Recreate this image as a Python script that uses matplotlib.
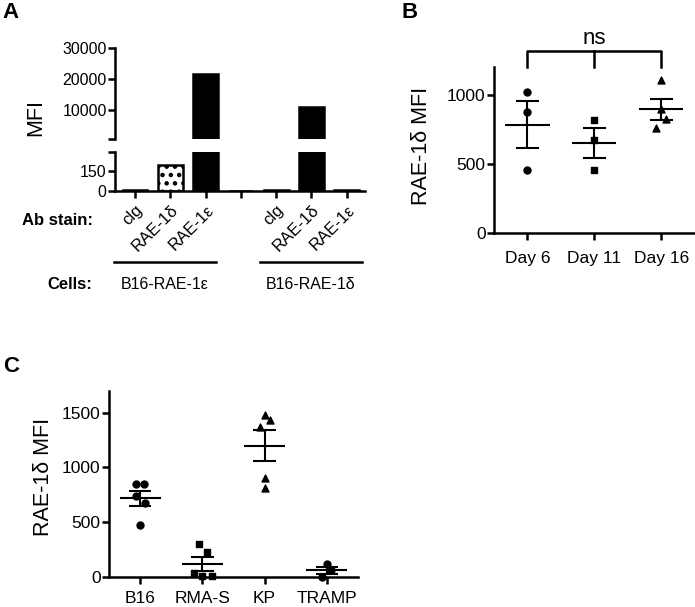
import numpy as np
import matplotlib
matplotlib.use('Agg')
import matplotlib.pyplot as plt
from matplotlib.lines import Line2D

plt.rcParams['font.family'] = ['Liberation Sans', 'DejaVu Sans']
plt.rcParams['hatch.linewidth'] = 2.0

# panel A: MFI per antibody stain, two cell lines (slot 3 is the gap)
a_stains = ['clg', 'RAE-1δ', 'RAE-1ε', '', 'clg', 'RAE-1δ', 'RAE-1ε']
a_mfi = [4, 190, 21500, 0, 4, 10900, 4]
a_cells = ['B16-RAE-1ε', 'B16-RAE-1δ']

# panel B: RAE-1δ MFI over time
b_days = ['Day 6', 'Day 11', 'Day 16']
b_day6 = [1020, 873, 455]
b_day11 = [820, 674, 453]
b_day16 = [1105, 897, 822, 757]
b_jitter = [[0, 0, 0], [0, 0, 0], [0, 0, 0.075, -0.08]]

# panel C: RAE-1δ MFI per tumour line
c_lines = ['B16', 'RMA-S', 'KP', 'TRAMP']
c_b16 = [850, 850, 735, 675, 470]
c_rmas = [300, 230, 35, 5, 5]
c_kp = [1475, 1435, 1365, 905, 810]
c_tramp = [112, 62, 0]
c_jitter = [[-0.07, 0.07, -0.07, 0.08, 0],
            [-0.06, 0.08, -0.14, 0, 0.16],
            [0, 0.08, -0.08, 0, 0],
            [0, 0.07, -0.08]]

LW = 1.8


def style(ax, hide_bottom=False):
    for s in ['top', 'right']:
        ax.spines[s].set_visible(False)
    for s in ax.spines.values():
        s.set_linewidth(LW)
    if hide_bottom:
        ax.spines['bottom'].set_visible(False)
    ax.tick_params(direction='out', length=5, width=LW, pad=1)


def mean_sem(ax, x, vals, half_mean=0.33, half_cap=0.17):
    m = np.mean(vals)
    s = np.std(vals, ddof=1) / np.sqrt(len(vals))
    ax.hlines(m, x - half_mean, x + half_mean, color='k', lw=1.5, zorder=2)
    ax.hlines([m - s, m + s], x - half_cap, x + half_cap, color='k', lw=1.5, zorder=2)
    ax.vlines(x, m - s, m + s, color='k', lw=1.5, zorder=2)


fig = plt.figure(figsize=(6.95, 6.07), dpi=100)

# ---- A ----
xa = np.arange(len(a_mfi))
colors = ['black'] * len(a_mfi)
colors[1] = 'white'
axA1 = fig.add_axes([0.1655, 0.771, 0.3597, 0.150])
axA2 = fig.add_axes([0.1655, 0.6853, 0.3597, 0.0643])
top_ylim = (500, 30000)
for ax in (axA1, axA2):
    bars = ax.bar(xa, a_mfi, width=0.7, color=colors, edgecolor='k', linewidth=LW)
    bars[1].set_hatch('..')
    if ax is axA1:
        for b, v in zip(bars, a_mfi):
            b.set_visible(v > top_ylim[0])
    ax.set_xlim(-0.57, 6.52)
axA1.set_ylim(*top_ylim)
axA1.set_yticks([500, 10000, 20000, 30000], ['', '10000', '20000', '30000'], fontsize=11.5)
axA1.set_xticks([])
style(axA1, hide_bottom=True)
axA2.set_ylim(0, 290)
axA2.set_yticks([0, 150, 290], ['0', '150', ''], fontsize=11.5)
axA2.set_xticks(xa)
axA2.set_xticklabels(a_stains, rotation=45, ha='right', rotation_mode='anchor', fontsize=12)
style(axA2)
axA2.tick_params(axis='x', pad=3)

fig.text(0.051, 0.807, 'MFI', rotation=90, ha='center', va='center', fontsize=15.5)
fig.text(0.134, 0.636, 'Ab stain:', ha='right', va='center', fontsize=12, fontweight='bold')
fig.text(0.1324, 0.532, 'Cells:', ha='right', va='center', fontsize=12, fontweight='bold')
for (x0, x1), name in zip([(114, 216), (260, 362)], a_cells):
    fig.add_artist(Line2D([x0 / 695, x1 / 695], [1 - 262 / 607] * 2, color='k', lw=LW))
    fig.text((x0 + x1) / 2 / 695, 0.532, name, ha='center', va='center', fontsize=11.5)

# ---- B ----
axB = fig.add_axes([0.7108, 0.6161, 0.2888, 0.2735])
for i, (vals, mk) in enumerate(zip([b_day6, b_day11, b_day16], ['o', 's', '^'])):
    axB.scatter(i + np.array(b_jitter[i]), vals, marker=mk, s=25, color='k', zorder=3)
    mean_sem(axB, i, vals)
axB.set_xlim(-0.5, 2.5)
axB.set_ylim(0, 1200)
axB.set_yticks([0, 500, 1000])
axB.set_xticks(range(len(b_days)), b_days)
style(axB)
axB.tick_params(labelsize=12.5)
axB.tick_params(axis='x', pad=8)
fig.text(0.6058, 0.7595, 'RAE-1δ MFI', rotation=90, ha='center', va='center', fontsize=15.5)
# significance bracket
axB.plot([0, 0, 2, 2], [1200, 1317, 1317, 1200], color='k', lw=LW, clip_on=False)
axB.plot([1, 1], [1200, 1317], color='k', lw=LW, clip_on=False)
axB.text(1, 1365, 'ns', ha='center', va='baseline', fontsize=16)

# ---- C ----
axC = fig.add_axes([0.1568, 0.0499, 0.3583, 0.3064])
for i, (vals, mk) in enumerate(zip([c_b16, c_rmas, c_kp, c_tramp], ['o', 's', '^', 'o'])):
    axC.scatter(i + np.array(c_jitter[i]), vals, marker=mk, s=25, color='k', zorder=3, clip_on=False)
    mean_sem(axC, i, vals, half_cap=0.18)
axC.set_xlim(-0.5, 3.5)
axC.set_ylim(0, 1700)
axC.set_yticks([0, 500, 1000, 1500])
axC.set_xticks(range(len(c_lines)), c_lines)
style(axC)
axC.tick_params(labelsize=12.5)
axC.tick_params(axis='x', pad=5)
fig.text(0.0619, 0.2142, 'RAE-1δ MFI', rotation=90, ha='center', va='center', fontsize=15.5)

# panel letters
fig.text(0.004, 0.997, 'A', ha='left', va='top', fontsize=16, fontweight='bold')
fig.text(0.578, 0.997, 'B', ha='left', va='top', fontsize=16, fontweight='bold')
fig.text(0.004, 1 - 356 / 607, 'C', ha='left', va='top', fontsize=16, fontweight='bold')

fig.savefig('out.png', dpi=100)
